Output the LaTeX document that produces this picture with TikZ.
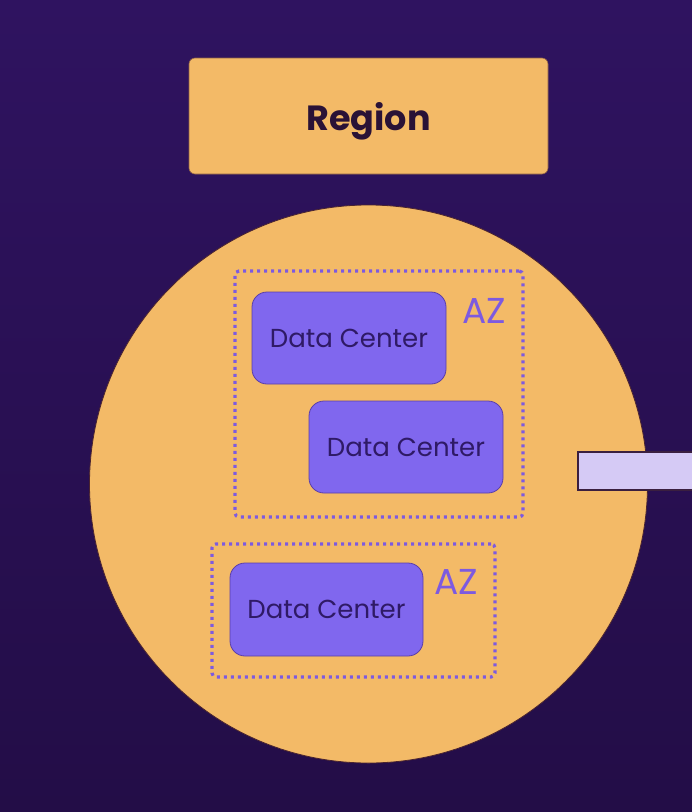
\documentclass[tikz,border=0pt]{standalone}
\usepackage{fontspec}
\setmainfont{Poppins}
\definecolor{bgtop}{HTML}{2F1360}
\definecolor{bgbot}{HTML}{230D47}
\definecolor{orangefill}{HTML}{F3BA67}
\definecolor{orangeedge}{HTML}{4A2430}
\definecolor{dcfill}{HTML}{8067EE}
\definecolor{dcedge}{HTML}{5B3FA8}
\definecolor{dctext}{HTML}{2F1A66}
\definecolor{azcol}{HTML}{7D5AE0}
\definecolor{regiontext}{HTML}{2A1236}
\definecolor{lavender}{HTML}{D5CAF5}
\definecolor{linkedge}{HTML}{3A1F3F}
\begin{document}
\begin{tikzpicture}[x=1pt,y=-1pt,
  regionbox/.style={rectangle, rounded corners=6pt, fill=orangefill, draw=orangeedge!60!orangefill, line width=0.6pt,
    minimum width=359pt, minimum height=116pt, inner sep=0pt, text=regiontext, text depth=0pt,
    font=\fontsize{35}{42}\selectfont\bfseries},
  zonecircle/.style={circle, fill=orangefill, draw=orangeedge, line width=0.8pt, minimum size=558pt, inner sep=0pt},
  azbox/.style={rectangle, rounded corners=4pt, draw=azcol, line width=3.2pt, dash pattern=on 3pt off 4pt, inner sep=0pt},
  dcbox/.style={rectangle, rounded corners=15pt, fill=dcfill, draw=dcedge, line width=0.8pt, inner sep=0pt,
    minimum width=194pt, minimum height=92pt, text=dctext, font=\fontsize{26}{32}\selectfont},
  azlabel/.style={inner sep=0pt, text=azcol, font=\fontsize{36}{42}\selectfont},
  linkbox/.style={rectangle, fill=lavender, draw=linkedge, line width=2pt, inner sep=0pt, minimum width=140pt, minimum height=38pt}
]
\useasboundingbox (0,0) rectangle (692,812);
\clip (0,0) rectangle (692,812);
\shade[top color=bgtop, bottom color=bgbot] (0,0) rectangle (692,812);

\node[regionbox] (region) at (368.5,116) {Region};
\node[zonecircle] (zone) at (368.5,484) {};

\node[azbox, minimum width=288pt, minimum height=246pt] (az1) at (379,394) {};
\node[azbox, minimum width=283pt, minimum height=133pt] (az2) at (353.5,610.5) {};

\node[dcbox] (dc1) at (349,338) {Data Center};
\node[dcbox] (dc2) at (406,447) {Data Center};
\node[dcbox, minimum width=193pt, minimum height=93pt] (dc3) at (326.5,609.5) {Data Center};

\node[azlabel] (az1label) at (484.5,311) {AZ};
\node[azlabel] (az2label) at (456.5,581.5) {AZ};

\node[linkbox, anchor=west] (link) at (577,471) {};
\end{tikzpicture}
\end{document}
